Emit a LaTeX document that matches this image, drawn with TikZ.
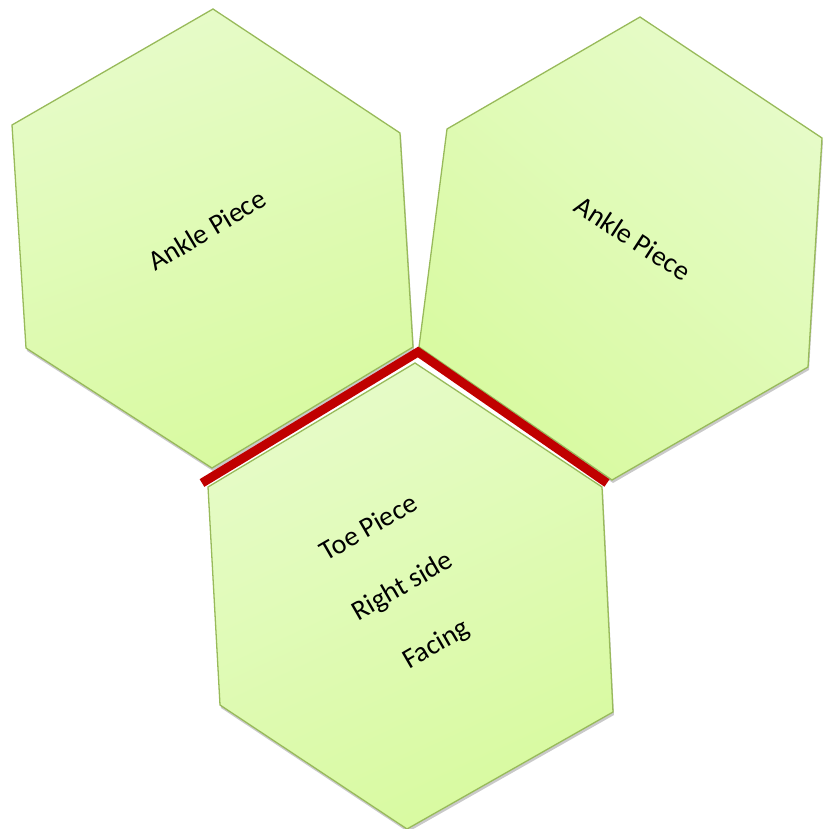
\documentclass[tikz,border=0pt]{standalone}
\usepackage{fontspec}
\setmainfont{Carlito}
\usetikzlibrary{shadows}
\definecolor{hxline}{HTML}{98BA5A}
\definecolor{hxlight}{HTML}{E6FBC8}
\definecolor{hxfill}{HTML}{D8FAA0}
\definecolor{hxred}{HTML}{C00000}
\tikzset{
  hexa/.style={draw=hxline,line width=1.3pt,top color=hxlight,bottom color=hxfill,
               drop shadow={shadow xshift=1pt,shadow yshift=-3pt,opacity=.3,fill=black!70}},
  halo/.style={draw=white,line width=7pt,line join=round},
  seam/.style={draw=hxred,line width=9pt,line join=miter},
  lbl/.style={font=\fontsize{28}{67}\selectfont,align=center,inner sep=0pt},
}
\begin{document}
\begin{tikzpicture}[x=1pt,y=-1pt]
    \useasboundingbox (0,0) rectangle (824,829);
    % ankle pieces
    \path[hexa,shading angle=20] (213,9) -- (400,133) -- (413,347) -- (212,468) -- (26,348) -- (12,125) -- cycle;
    \path[hexa,shading angle=-40] (640,17) -- (822,138) -- (808,367) -- (612,480) -- (419,347) -- (447,129) -- cycle;
    \node[lbl,rotate=31] (ankleL) at (207,230) {Ankle Piece};
    \node[lbl,rotate=-33] (ankleR) at (633,238) {Ankle Piece};
    % toe piece
    \draw[halo] (208,487) -- (415,363) -- (602,487);
    \path[hexa,shading angle=25] (415,363) -- (602,487) -- (613,712) -- (407,829) -- (220,705) -- (208,487) -- cycle;
    \node[lbl,rotate=30] (toe) at (403,587) {Toe Piece\\Right side\\Facing};
    % joined edges
    \coordinate (sL) at (202,483);
    \coordinate (sT) at (418,352);
    \coordinate (sR) at (607,483);
    \draw[seam] (sL) -- (sT) -- (sR);
\end{tikzpicture}
\end{document}
